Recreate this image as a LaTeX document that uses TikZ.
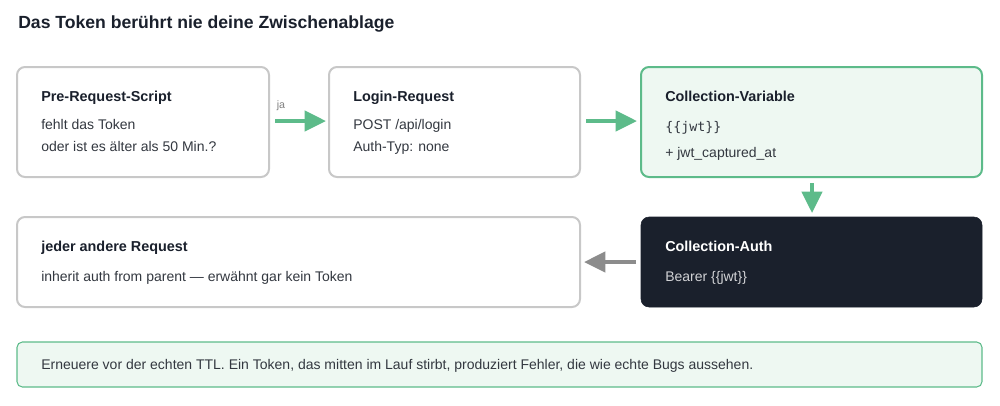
\documentclass[tikz,border=0pt]{standalone}
\usepackage{fontspec}
\setmainfont{Liberation Sans}
\setmonofont{DejaVu Sans Mono}
\usetikzlibrary{arrows.meta}
\definecolor{grn}{HTML}{5DBB8A}
\definecolor{grnfill}{HTML}{EEF8F2}
\definecolor{dark}{HTML}{1A202C}
\definecolor{txt}{HTML}{333840}
\definecolor{bd}{HTML}{C8C8C8}
\begin{document}
\begin{tikzpicture}[x=0.75pt,y=-0.75pt,
  box/.style={draw=bd,line width=1.5pt,rounded corners=6pt,fill=white},
  gbox/.style={draw=grn,line width=1.5pt,rounded corners=6pt,fill=grnfill},
  dbox/.style={draw=dark,fill=dark,rounded corners=6pt},
  hd/.style={anchor=base west,font=\fontsize{10.8}{12}\selectfont\bfseries,text=dark,inner sep=0},
  tx/.style={anchor=base west,font=\fontsize{10.5}{12}\selectfont,text=txt,inner sep=0},
  garr/.style={-{Triangle[length=16pt,width=15pt]},draw=grn,line width=3pt},
  karr/.style={-{Triangle[length=16pt,width=15pt]},draw=gray!90,line width=3pt}]
\useasboundingbox (0,0) rectangle (1000,405);
\node[anchor=base west,inner sep=0,font=\fontsize{13.2}{14}\selectfont\bfseries,text=dark] (title) at (18,28) {Das Token berührt nie deine Zwischenablage};
\draw[box] (17,67) rectangle (269,177);
\draw[box] (329,67) rectangle (580,177);
\draw[gbox] (641,67) rectangle (982,177);
\draw[box] (17,217) rectangle (580,307);
\draw[dbox] (641,217) rectangle (982,307);
\draw[gbox,line width=0.8pt,rounded corners=4pt] (17,342) rectangle (982,387);
\node[hd] (h1) at (41,101) {Pre-Request-Script};
\node[tx] (a1) at (41,129) {fehlt das Token};
\node[tx] (b1) at (41,151) {oder ist es älter als 50 Min.?};
\node[hd] (h2) at (353,101) {Login-Request};
\node[tx] (a2) at (353,129) {POST /api/login};
\node[tx] (b2) at (353,151) {Auth-Typ: none};
\node[hd] (h3) at (665,101) {Collection-Variable};
\node[tx,font=\fontsize{10}{12}\ttfamily] (a3) at (665,131) {\{\{jwt\}\}};
\node[tx] (b3) at (665,157) {+ jwt\_captured\_at};
\node[hd] (h4) at (41,251) {jeder andere Request};
\node[tx] (a4) at (41,281) {inherit auth from parent — erwähnt gar kein Token};
\node[hd,text=white] (h5) at (665,251) {Collection-Auth};
\node[tx,text=white!80!dark] (a5) at (665,281) {Bearer \{\{jwt\}\}};
\node[tx] (n) at (41,369) {Erneuere vor der echten TTL. Ein Token, das mitten im Lauf stirbt, produziert Fehler, die wie echte Bugs aussehen.};
\coordinate (p1) at (275,121); \coordinate (p2) at (326,121);
\coordinate (p3) at (586,121); \coordinate (p4) at (637,121);
\coordinate (p5) at (812,183); \coordinate (p6) at (812,213);
\coordinate (p7) at (636,262); \coordinate (p8) at (584,262);
\draw[garr] (p1) -- (p2);
\node[anchor=base,inner sep=0,font=\fontsize{8}{9}\selectfont,text=gray] (ja) at (281,108) {ja};
\draw[garr] (p3) -- (p4);
\draw[garr] (p5) -- (p6);
\draw[karr] (p7) -- (p8);
\end{tikzpicture}
\end{document}
